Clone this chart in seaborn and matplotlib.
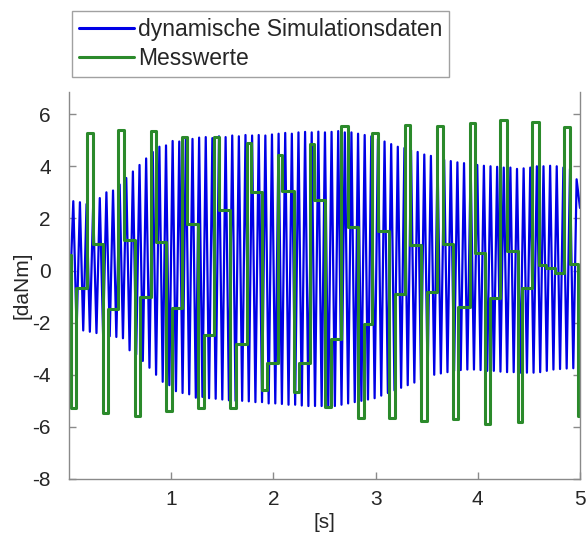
import numpy as np
import pandas as pd
import matplotlib
matplotlib.use("Agg")
import matplotlib.pyplot as plt
import seaborn as sns

# --- simulated torque: peak and trough amplitudes of each oscillation [daNm] ---
sim_start = -1.9
sim_peaks = [2.66, 2.62, 2.55, 2.5, 2.78, 3.0, 3.07, 3.3, 3.55, 3.8,
             4.05, 4.3, 4.55, 4.75, 4.8, 4.97, 4.95, 5.08, 5.05, 5.1,
             5.12, 5.08, 5.15, 5.12, 5.18, 5.15, 5.2, 5.18, 5.2, 5.18,
             5.22, 5.25, 5.28, 5.25, 5.3, 5.32, 5.3, 5.33, 5.3, 5.32,
             5.35, 5.3, 5.3, 5.25, 5.2, 5.15, 5.05, 4.95, 4.85, 4.75,
             4.7, 4.62, 4.55, 4.45, 4.4, 4.3, 4.25, 4.2, 4.15, 4.12,
             4.1, 4.05, 4.02, 4.0, 3.98, 3.95, 3.95, 3.9, 3.92, 3.95,
             4.0, 4.0, 4.02, 4.0, 3.95, 3.9, 3.5]
sim_troughs = [-2.3, -2.3, -2.35, -2.4, -2.45, -2.52, -2.55, -2.6, -3.06, -3.22,
               -3.47, -3.73, -4.0, -4.27, -4.4, -4.63, -4.7, -4.75, -4.88, -4.85,
               -4.9, -4.92, -4.95, -4.98, -5.0, -5.0, -5.02, -5.05, -5.05, -5.1,
               -5.1, -5.12, -5.15, -5.15, -5.18, -5.2, -5.2, -5.2, -5.2, -5.2,
               -5.15, -5.1, -5.05, -5.0, -4.95, -4.9, -4.8, -4.7, -4.6, -4.5,
               -4.4, -4.3, -4.2, -4.1, -4.0, -3.95, -3.9, -3.85, -3.82, -3.8,
               -3.8, -3.82, -3.85, -3.85, -3.88, -3.9, -3.9, -3.92, -3.92, -3.92,
               -3.9, -3.85, -3.8, -3.78, -3.76, -3.75]
sim_end = 2.4
sim_first_peak = 0.042      # s
sim_period = 0.0648         # s

# --- measured torque: sample-and-hold steps (start time [s], value [daNm]) ---
meas_t = [0.0, 0.015, 0.068, 0.181, 0.230,
          0.335, 0.380, 0.484, 0.541,
          0.644, 0.697, 0.802, 0.854,
          0.947, 1.006, 1.108, 1.153,
          1.264, 1.323, 1.421, 1.463,
          1.573, 1.632, 1.737, 1.783,
          1.884, 1.935, 2.047, 2.089,
          2.200, 2.246, 2.356, 2.402,
          2.503, 2.566, 2.666, 2.728,
          2.823, 2.882, 2.967, 3.028,
          3.129, 3.192, 3.286, 3.339,
          3.449, 3.501, 3.596, 3.655,
          3.759, 3.811, 3.922, 3.975,
          4.075, 4.121, 4.222, 4.284,
          4.389, 4.437, 4.535, 4.594, 4.667, 4.755,
          4.845, 4.904, 4.985, 5.0]
meas_v = [0.6, -5.29, -0.66, 5.26, 1.03,
          -5.46, -1.49, 5.41, 1.16,
          -5.58, -1.02, 5.35, 1.10,
          -5.39, -1.45, 5.12, 1.79,
          -5.29, -2.48, 5.14, 2.34,
          -5.29, -2.83, 4.90, 3.02,
          -4.60, -3.54, 4.43, 3.07,
          -4.66, -3.54, 4.84, 2.72,
          -5.24, -2.64, 5.54, 1.67,
          -5.65, -2.07, 5.28, 1.51,
          -5.65, -0.92, 5.60, 0.98,
          -5.78, -0.83, 5.54, 1.03,
          -5.71, -1.40, 5.67, 0.66,
          -5.88, -1.05, 5.76, 0.75,
          -5.80, -0.69, 5.69, 0.22, 0.08, -0.10,
          5.51, 0.26, -5.6, -5.6]

x_ticks = [1, 2, 3, 4, 5]
y_ticks = [-8, -6, -4, -2, 0, 2, 4, 6]

# extremes of the simulated oscillation in time order
n_tr = len(sim_troughs)
peak_t = sim_first_peak + sim_period * np.arange(len(sim_peaks))
trough_t = peak_t[:n_tr] + sim_period / 2
sim_t = np.concatenate([[0.0], np.ravel(np.column_stack([peak_t[:n_tr], trough_t])),
                        peak_t[n_tr:], [5.0]])
sim_v = np.concatenate([[sim_start], np.ravel(np.column_stack([sim_peaks[:n_tr], sim_troughs])),
                        sim_peaks[n_tr:], [sim_end]])
sim_df = pd.DataFrame({"t": sim_t, "v": sim_v})
meas_df = pd.DataFrame({"t": meas_t, "v": meas_v})

sns.set_style("ticks")
plt.rcParams["font.family"] = ["Liberation Sans", "DejaVu Sans"]

fig = plt.figure(figsize=(5.87, 5.42), dpi=100)
ax = fig.add_axes([69 / 587, 63 / 542, 511 / 587, 387 / 542])

sns.lineplot(data=sim_df, x="t", y="v", ax=ax, color="#0000e6", linewidth=1.6,
             sort=False, estimator=None, label="dynamische Simulationsdaten")
sns.lineplot(data=meas_df, x="t", y="v", ax=ax, color="#2b8a2b", linewidth=2.2,
             sort=False, estimator=None, drawstyle="steps-post", label="Messwerte")

ax.set_xlim(0, 5)
ax.set_ylim(-8, 6.85)
ax.set_xticks(x_ticks)
ax.set_yticks(y_ticks)
ax.set_xticklabels([str(v) for v in x_ticks])
ax.set_yticklabels([str(v) for v in y_ticks])
ax.tick_params(direction="in", length=5, width=1, color="#8a8a8a",
               labelsize=15, labelcolor="#262626", right=True, top=False)
ax.tick_params(axis="x", pad=8)
ax.tick_params(axis="y", pad=13)
for side in ["left", "bottom", "right"]:
    ax.spines[side].set_color("#8a8a8a")
    ax.spines[side].set_linewidth(1)
ax.spines["top"].set_visible(False)
ax.set_xlabel("[s]", fontsize=15, color="#262626", labelpad=3)
ax.set_ylabel("[daNm]", fontsize=15, color="#262626", labelpad=1)

handles, labels = ax.get_legend_handles_labels()
ax.get_legend().remove()
leg = fig.legend(handles, labels, loc="upper left",
                 bbox_to_anchor=(72 / 587, 1 - 11 / 542), fontsize=16.5,
                 frameon=True, fancybox=False, edgecolor="#8a8a8a",
                 handlelength=2.4, handletextpad=0.18, labelspacing=0.27,
                 borderpad=0.3, borderaxespad=0)
leg.get_frame().set_linewidth(1)
for h in leg.get_lines():
    h.set_linewidth(2.2)

fig.savefig("out.png", dpi=100)
